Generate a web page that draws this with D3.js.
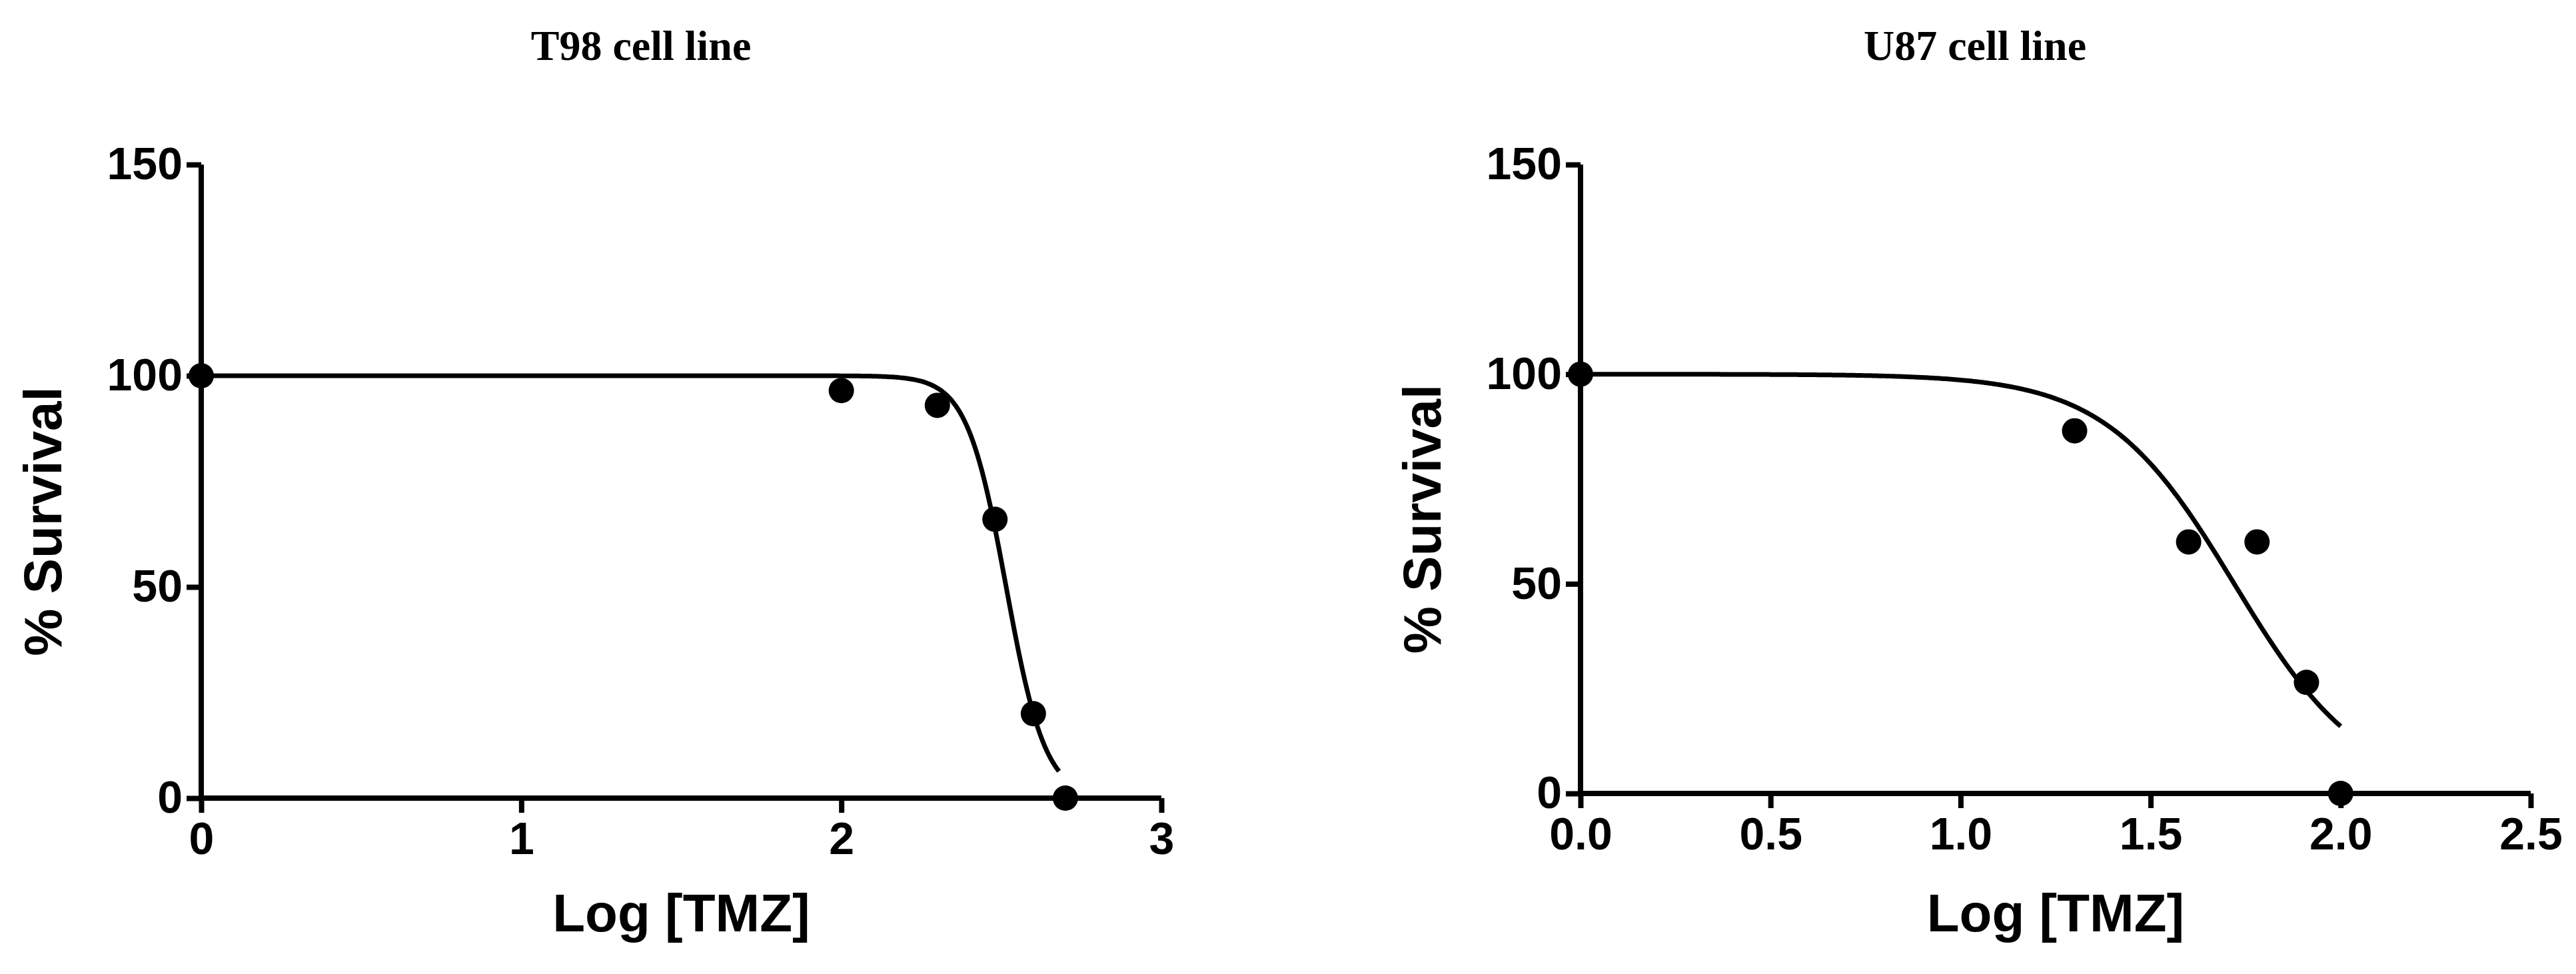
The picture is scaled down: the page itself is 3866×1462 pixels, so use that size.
<!DOCTYPE html>
<html>
<head>
<meta charset="utf-8">
<script src="https://d3js.org/d3.v7.min.js"></script>
<style>
  body { margin: 0; background: #fff; }
  .tick text { font-family: "Liberation Sans", Arial, sans-serif; font-weight: bold; font-size: 68px; }
  .axlabel { font-family: "Liberation Sans", Arial, sans-serif; font-weight: bold; font-size: 80px; }
  .title { font-family: "Liberation Serif", "Times New Roman", serif; font-weight: bold; font-size: 64px; }
</style>
</head>
<body>
<svg id="chart" width="3866" height="1462"></svg>
<script>
// T98 data
const t98X = [0, 2, 2.3, 2.48, 2.6, 2.7];
const t98Y = [100, 96.5, 93, 66, 20, 0];
const t98Fit = { top: 100, bottom: 0, logIC50: 2.515, hill: 7.08, xMin: 0, xMax: 2.68 };
const t98Ticks = [0, 1, 2, 3];

// U87 data
const u87X = [0, 1.3, 1.6, 1.78, 1.91, 2.0];
const u87Y = [100, 86.5, 60, 60, 26.5, 0];
const u87Fit = { top: 100, bottom: 0, logIC50: 1.72, hill: 2.57, xMin: 0, xMax: 2.0 };
const u87Ticks = [0, 0.5, 1.0, 1.5, 2.0, 2.5];

const yTicks = [0, 50, 100, 150];

const svg = d3.select("#chart");

function panel(opt) {
  const g = svg.append("g");
  const x = d3.scaleLinear().domain(opt.xDomain).range([opt.left, opt.right]);
  const y = d3.scaleLinear().domain([0, 150]).range([opt.bottom, opt.top]);

  const xAxis = g.append("g")
      .attr("transform", "translate(0," + opt.bottom + ")")
      .call(d3.axisBottom(x).tickValues(opt.xTicks).tickFormat(opt.fmt).tickSize(22).tickPadding(14));
  const yAxis = g.append("g")
      .attr("transform", "translate(" + opt.left + ",0)")
      .call(d3.axisLeft(y).tickValues(yTicks).tickSize(22).tickPadding(6));
  [xAxis, yAxis].forEach(a => {
    a.select(".domain").attr("stroke", "#000").attr("stroke-width", 8);
    a.selectAll(".tick line").attr("stroke", "#000").attr("stroke-width", 8);
    a.selectAll(".tick text").attr("fill", "#000");
  });
  // remove outer tick caps from domain path
  xAxis.select(".domain").attr("d", "M" + opt.left + ",0H" + opt.right);
  yAxis.select(".domain").attr("d", "M0," + opt.top + "V" + opt.bottom);

  // fitted curve
  const f = opt.fit;
  const pts = d3.range(0, 401).map(i => {
    const xv = f.xMin + (f.xMax - f.xMin) * i / 400;
    return [xv, f.bottom + (f.top - f.bottom) / (1 + Math.pow(10, (xv - f.logIC50) * f.hill))];
  });
  g.append("path")
      .datum(pts)
      .attr("fill", "none")
      .attr("stroke", "#000")
      .attr("stroke-width", 7)
      .attr("d", d3.line().x(d => x(d[0])).y(d => y(d[1])));

  g.selectAll("circle.pt")
      .data(opt.xs.map((v, i) => [v, opt.ys[i]]))
      .enter().append("circle")
      .attr("cx", d => x(d[0]))
      .attr("cy", d => y(d[1]))
      .attr("r", 19)
      .attr("fill", "#000");

  g.append("text").attr("class", "title")
      .attr("x", opt.titleX).attr("y", 90)
      .attr("text-anchor", "middle").text(opt.title);
  g.append("text").attr("class", "axlabel")
      .attr("x", (opt.left + opt.right) / 2).attr("y", 1398)
      .attr("text-anchor", "middle").text("Log [TMZ]");
  g.append("text").attr("class", "axlabel")
      .attr("transform", "translate(" + (opt.left - 210) + "," + ((opt.top + opt.bottom) / 2 + 60) + ") rotate(-90)")
      .attr("text-anchor", "middle").text("% Survival");
}

panel({ left: 302, right: 1743, top: 247, bottom: 1198, xDomain: [0, 3], xTicks: t98Ticks,
  fmt: d3.format("d"), fit: t98Fit, xs: t98X, ys: t98Y, title: "T98 cell line", titleX: 962 });
panel({ left: 2372, right: 3798, top: 247, bottom: 1191, xDomain: [0, 2.5], xTicks: u87Ticks,
  fmt: d3.format(".1f"), fit: u87Fit, xs: u87X, ys: u87Y, title: "U87 cell line", titleX: 2964 });
</script>
</body>
</html>
